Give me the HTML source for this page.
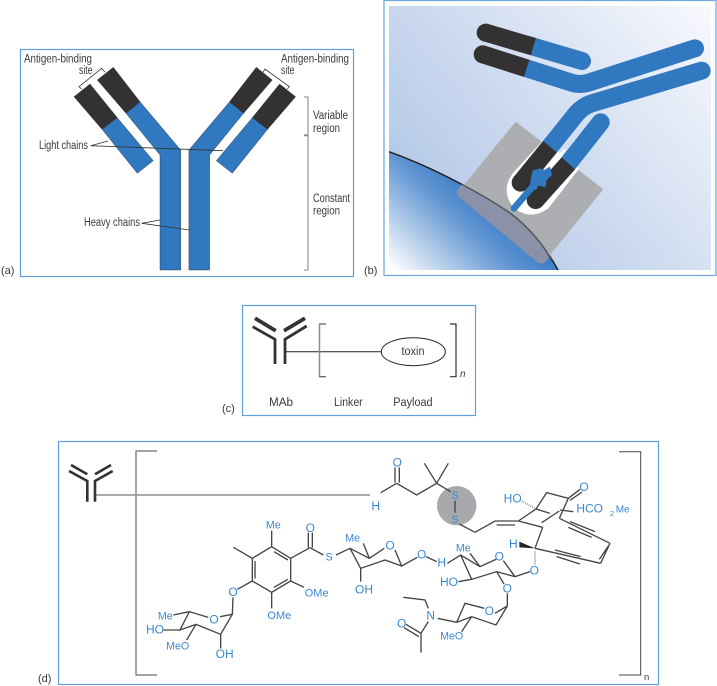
<!DOCTYPE html>
<html><head><meta charset="utf-8">
<style>
html,body{margin:0;padding:0;background:#fff}
svg{display:block}
text{font-family:"Liberation Sans",sans-serif;fill:#3a3a3a}
.t{font-size:11.5px}
.b text{fill:#3b87d2;font-size:36px;text-anchor:middle}
.b path{fill:none;stroke:#444;stroke-width:4}
</style></head><body>
<svg width="717" height="686" viewBox="0 0 717 686" xmlns="http://www.w3.org/2000/svg">
<defs>
<linearGradient id="bg" gradientUnits="userSpaceOnUse" x1="400" y1="270" x2="711" y2="6">
<stop offset="0" stop-color="#a9c1e4"/><stop offset=".5" stop-color="#cfdcf0"/><stop offset="1" stop-color="#f8f9fd"/></linearGradient>
<linearGradient id="cell" gradientUnits="userSpaceOnUse" x1="395" y1="272" x2="472" y2="190">
<stop offset="0" stop-color="#ffffff"/><stop offset=".75" stop-color="#5f94d2"/><stop offset="1" stop-color="#3f80c8"/></linearGradient>
<clipPath id="cellclip"><path d="M389 151.7C420 163 442 174 463 185 482 195 497 204 510 213 530 228 546 248 558 270H389Z"/></clipPath>
</defs>

<!-- (a) -->
<rect x="20.5" y="49.5" width="333" height="227" fill="#fff" stroke="#5f9fdc" stroke-width="1.2"/>
<g id="arm" stroke="#2a2a2a" stroke-width=".4">
<path fill="#3079c1" d="M160 270V155L126 113.3 140 101.7 180.7 150V270Z"/>
<path fill="#333132" d="M97.3 80 113.3 67.3 140 101.7 126 113.3Z"/>
<path fill="#333132" d="M74 96.7 90 84 117.3 117.7 102 129.3Z"/>
<path fill="#3079c1" d="M102 129.3 117.3 117.7 153.3 160.7 137.3 173.3Z"/>
<path fill="#3079c1" d="M209.6 270V155L243.6 113.3 229.6 101.7 188.9 150V270Z"/>
<path fill="#333132" d="M272.3 80 256.3 67.3 229.6 101.7 243.6 113.3Z"/>
<path fill="#333132" d="M295.6 96.7 279.6 84 252.3 117.7 267.6 129.3Z"/>
<path fill="#3079c1" d="M267.6 129.3 252.3 117.7 216.3 160.7 232.3 173.3Z"/>
</g>
<g fill="none" stroke="#333" stroke-width=".8">
<path d="M81.7 89 79 86.7 101.7 68.3 105 72.3"/>
<path d="M263 72.3 265 69 289.3 86.7 287.3 89"/>
<path d="M108 141 90.7 145.7 223 150.7"/>
<path d="M160 220 141.7 223.3 189.3 230"/>
</g>
<path d="M304 97H308V270H304" fill="none" stroke="#8a8a8a" stroke-width="1.1"/>
<path d="M304 135.3H308" stroke="#8a8a8a" stroke-width="2"/>
<text class="t" x="24" y="62.7" textLength="68" lengthAdjust="spacingAndGlyphs">Antigen-binding</text>
<text class="t" x="79" y="74" textLength="13.5" lengthAdjust="spacingAndGlyphs">site</text>
<text class="t" x="281" y="62.7" textLength="68" lengthAdjust="spacingAndGlyphs">Antigen-binding</text>
<text class="t" x="281" y="74" textLength="13.5" lengthAdjust="spacingAndGlyphs">site</text>
<text class="t" x="39" y="149" textLength="49" lengthAdjust="spacingAndGlyphs">Light chains</text>
<text class="t" x="84" y="226" textLength="56" lengthAdjust="spacingAndGlyphs">Heavy chains</text>
<text class="t" x="313" y="119" textLength="35" lengthAdjust="spacingAndGlyphs">Variable</text>
<text class="t" x="313" y="132" textLength="27" lengthAdjust="spacingAndGlyphs">region</text>
<text class="t" x="313" y="202" textLength="37" lengthAdjust="spacingAndGlyphs">Constant</text>
<text class="t" x="313" y="214.5" textLength="27" lengthAdjust="spacingAndGlyphs">region</text>
<text x="1" y="274" font-size="11">(a)</text>
<text x="364" y="274" font-size="11">(b)</text>

<!-- (b) -->
<rect x="384" y="0.5" width="332" height="275" fill="#fff" stroke="#6ba6de" stroke-width="1.2"/>
<rect x="389" y="6" width="322" height="264" fill="url(#bg)"/>
<path d="M389 151.7C420 163 442 174 463 185 482 195 497 204 510 213 530 228 546 248 558 270H389Z" fill="url(#cell)"/>
<path d="M389 151.7C420 163 442 174 463 185 482 195 497 204 510 213 530 228 546 248 558 270" fill="none" stroke="#222" stroke-width="1.5"/>
<path d="M515.7 121.7 603.3 189.3 543.3 263.3 457.3 192.7Z" fill="#adaeb1"/>
<path clip-path="url(#cellclip)" d="M515.7 121.7 603.3 189.3 545 262 Q541 265 537 262 L459 197 Q456 193 458 189Z" fill="#8a91a8"/>
<path d="M463 185C482 195 497 204 510 213 530 228 546 248 552 262" fill="none" stroke="#55565a" stroke-width="1.5"/>
<g transform="translate(370 0) scale(.33333)" fill="none">
<path d="M520 420 428 520Q392 570 428 620 478 665 535 625L628 505Z" fill="#fff"/>
<g stroke-width="54">
<path d="M490 140 636 183" stroke="#3079c1" stroke-linecap="round"/>
<path d="M347 98 490 140" stroke="#333132"/>
<path d="M470 205 605 248Q630 256 655 248L975 145" stroke="#3079c1" stroke-linecap="round"/>
<path d="M338 163 470 205" stroke="#333132"/>
<path d="M995 212 665 310Q640 318 620 340L540 440" stroke="#3079c1" stroke-linecap="round"/>
<path d="M692 367 595 490" stroke="#3079c1" stroke-linecap="round"/>
<path d="M540 440 452 548" stroke="#333132"/>
<path d="M595 490 497 600" stroke="#333132"/>
</g>
<circle cx="347" cy="98" r="27" fill="#333132"/>
<circle cx="338" cy="163" r="27" fill="#333132"/>
<circle cx="452" cy="548" r="27" fill="#333132"/>
<circle cx="497" cy="600" r="27" fill="#333132"/>
<path d="M534 510 585 448" stroke="#fff" stroke-width="8"/>
<path d="M432 625 505 540" stroke="#3079c1" stroke-width="20" stroke-linecap="round"/>
<path d="M488 512 510 505 522 510 540 500 546 525 530 540 526 562 505 556 498 572 480 548Z" fill="#3079c1"/>
</g>

<!-- (c) -->
<rect x="242.5" y="305.5" width="233" height="110" fill="#fff" stroke="#5f9fdc" stroke-width="1.2"/>
<g fill="none" stroke="#333">
<path stroke-width="3.8" d="M255 318.3 275.7 330.7M305 318.3 284 330.7"/>
<path stroke-width="2.8" d="M252.7 326.7 275 339.3V364M306.7 326 285 339.3V364"/>
</g>
<path d="M285 351.7H381.5" stroke="#222" stroke-width="1"/>
<path d="M326 324H319.5V376.7H326" fill="none" stroke="#333" stroke-width="1"/>
<path d="M319.5 324V376.7" stroke="#8a8a8a" stroke-width="1.5"/>
<path d="M450 324H456V376.7H450" fill="none" stroke="#333" stroke-width="1.2"/>
<ellipse cx="413.3" cy="351.7" rx="32" ry="14" fill="#fff" stroke="#222" stroke-width="1"/>
<text class="t" x="401.5" y="355" textLength="23" lengthAdjust="spacingAndGlyphs">toxin</text>
<text x="460" y="377" font-size="10" font-style="italic">n</text>
<text class="t" x="269" y="406" textLength="24" lengthAdjust="spacingAndGlyphs">MAb</text>
<text class="t" x="334" y="406" textLength="28.7" lengthAdjust="spacingAndGlyphs">Linker</text>
<text class="t" x="393.3" y="406" textLength="39.3" lengthAdjust="spacingAndGlyphs">Payload</text>
<text x="222" y="412" font-size="11">(c)</text>

<!-- (d) -->
<rect x="58.5" y="441.5" width="600" height="243" fill="#fff" stroke="#5f9fdc" stroke-width="1.2"/>
<g fill="none" stroke="#333" stroke-width="2.6">
<path d="M71 465 87.3 474.3M111 465 95 474.3"/>
<path d="M69 471 87.3 481V501.7M112.7 471 95 481V501.7"/>
</g>
<path d="M95 495H370" stroke="#555" stroke-width="1"/>
<path d="M157 451H136V675H157" fill="none" stroke="#444" stroke-width=".9"/>
<path d="M136 451V675" stroke="#8a8a8a" stroke-width="1.5"/>
<path d="M619 451.7H640.7V675H619" fill="none" stroke="#444" stroke-width="1"/>
<text x="644" y="680" font-size="9.5">n</text>
<text x="38" y="682" font-size="11">(d)</text>
<circle cx="456.7" cy="505.7" r="19.7" fill="#a8a9ad"/>

<g class="b" transform="translate(360 440) scale(.33333)">
<path d="M62 158 110 130M105 128V82M118 128V82M110 130 170 165 230 130M230 130 193 70M230 130 265 70M230 130 272 155M345 277 298 252M345 277 405 243H475M410 255H465"/>
<path d="M285 182V218" stroke-width="3" />
<path d="M475 243 528 207 560 158 625 175 598 235M625 175 660 148M630 181 666 156M528 207 570 220M600 210 640 215M475 243 548 262M545 248 598 213M548 262 525 325M598 235 750 310M630 245 705 275M625 262 695 292M750 310 722 370M745 318 718 358M722 370 525 325M585 330 662 350M590 350 660 372"/>
<path d="M485 183 528 207" stroke-dasharray="2 4" stroke-width="8"/>
<path d="M525 335V375" stroke-dasharray="2 4" stroke-width="7"/>
<path d="M478 305 525 325 478 322Z" style="fill:#222;stroke:none"/>
<!-- sugar right -->
<path d="M262 370 302 345 360 380 408 358M430 362 465 410 510 395M302 345 335 418 410 395 465 410M330 340 360 380M335 418 295 425M410 395 432 432M442 460 442 498 405 520M373 505 315 490 290 547M442 498 408 555 335 530 290 547M290 547 233 535M205 505 195 480 130 472M205 545 183 580 183 638M183 580 138 553M177 590 132 563M335 530 305 575"/>
<!-- sugar middle -->
<path d="M-72 345-30 325 28 355 73 325M105 330 125 378 172 352M198 350 230 365M-30 325 2 385 75 360 125 378M28 355 10 310M2 385 2 425"/>
<g stroke="none">
<text x="112" y="80">O</text><text x="285" y="177" style="font-size:32px">S</text><text x="285" y="249" style="font-size:32px">S</text>
<text x="47" y="210">H</text><text x="458" y="188">HO</text><text x="672" y="153">O</text>
<text x="689" y="218">HCO</text><text x="756" y="228" style="font-size:22px">2</text><text x="788" y="218" style="font-size:30px">Me</text>
<text x="460" y="324">H</text><text x="523" y="403">O</text><text x="418" y="362">O</text><text x="442" y="458">O</text>
<text x="245" y="379">H</text><text x="185" y="356">O</text><text x="90" y="329">O</text>
<text x="310" y="334" style="font-size:32px">Me</text><text x="267" y="438">HO</text>
<text x="212" y="538">N</text><text x="125" y="562">O</text><text x="388" y="525">O</text><text x="275" y="598" style="font-size:32px">MeO</text>
<text x="12" y="461">OH</text><text x="-22" y="304" style="font-size:32px">Me</text>
</g>
</g>

<g class="b" transform="translate(130 500) scale(.33333)">
<path d="M425 140 482 175V243L425 277 367 243V175ZM375 235V183M432 155 474 180M474 238 432 262M425 140V92M367 175 310 142M482 175 540 143M535 143V98M547 143V98M540 143 580 165M482 243 522 262M425 277V325M367 243 322 268M309 292 307 343 272 403 198 373 150 390 178 335 235 352M270 350 307 343M130 345 178 335M100 390H150M198 373 170 420M272 403V445"/>
<g stroke="none">
<text x="430" y="86" style="font-size:32px">Me</text><text x="541" y="96">O</text><text x="597" y="182" style="font-size:32px">S</text>
<text x="560" y="290" style="font-size:33px">OMe</text><text x="448" y="357" style="font-size:33px">OMe</text>
<text x="309" y="288">O</text><text x="252" y="370">O</text><text x="106" y="359" style="font-size:32px">Me</text>
<text x="75" y="400">HO</text><text x="143" y="449" style="font-size:32px">MeO</text><text x="284" y="474">OH</text>
</g>
</g>
</svg>
</body></html>
